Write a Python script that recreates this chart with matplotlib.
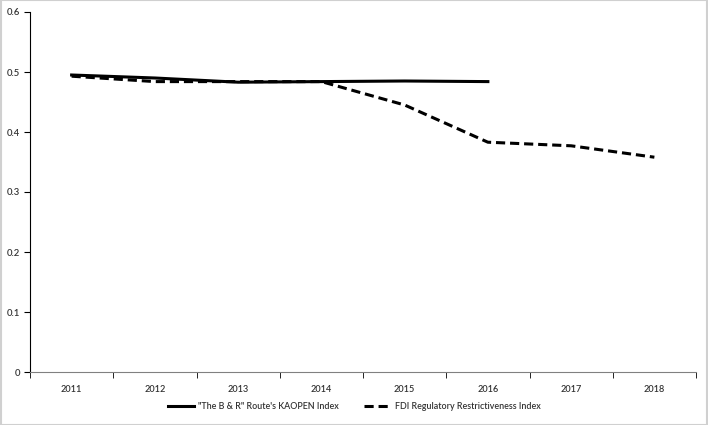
import matplotlib.pyplot as plt
import numpy as np

years = ["2011", "2012", "2013", "2014", "2015", "2016", "2017", "2018"]
kaopen = [0.495, 0.490, 0.483, 0.484, 0.485, 0.484]
fdi = [0.493, 0.484, 0.484, 0.484, 0.445, 0.383, 0.377, 0.358]

plt.rcParams['font.family'] = ['Lato', 'DejaVu Sans']

fig = plt.figure(figsize=(7.08, 4.25), dpi=100)
ax = fig.add_axes([30 / 708, 53 / 425, 666 / 708, 360 / 425])

x = np.arange(len(years))
ax.plot(x[:len(kaopen)], kaopen, color='black', linewidth=2.2,
        label="\"The B & R\" Route's KAOPEN Index")
ax.plot(x, fdi, color='black', linewidth=2.2, linestyle=(0, (3, 1.6)),
        label="FDI Regulatory Restrictiveness Index")

ax.set_xlim(-0.5, len(years) - 0.5)
ax.set_ylim(0, 0.6)
ax.set_yticks(np.arange(0, 0.61, 0.1))
ax.set_yticklabels(["0", "0.1", "0.2", "0.3", "0.4", "0.5", "0.6"])
ax.set_xticks(x)
ax.set_xticklabels(years)
ax.set_xticks(np.arange(-0.5, len(years)), minor=True)
ax.tick_params(axis='x', which='major', length=0, labelsize=6.6, pad=9, labelcolor='#333333')
ax.tick_params(axis='x', which='minor', length=4, direction='out')
ax.tick_params(axis='y', labelsize=6.8, length=4, direction='out', pad=3, labelcolor='#333333')
for lbl in ax.get_xticklabels() + ax.get_yticklabels():
    lbl.set_fontweight('semibold')
for s in ['top', 'right']:
    ax.spines[s].set_visible(False)
ax.spines['left'].set_linewidth(0.8)
ax.spines['bottom'].set_linewidth(0.8)
ax.spines['bottom'].set_color('#808080')

leg = fig.legend(loc='lower center', bbox_to_anchor=(0.5, 0.015), ncol=2, frameon=False,
                 fontsize=6.4, handlelength=3.0, handletextpad=0.4, columnspacing=2.9,
                 labelcolor='#333333')
for t in leg.get_texts():
    t.set_fontweight('semibold')

fig.patches.append(plt.Rectangle((0.001, 0.001), 0.998, 0.998, transform=fig.transFigure,
                                 fill=False, edgecolor='#d0d0d0', linewidth=1.5))

fig.savefig("out.png", dpi=100)
